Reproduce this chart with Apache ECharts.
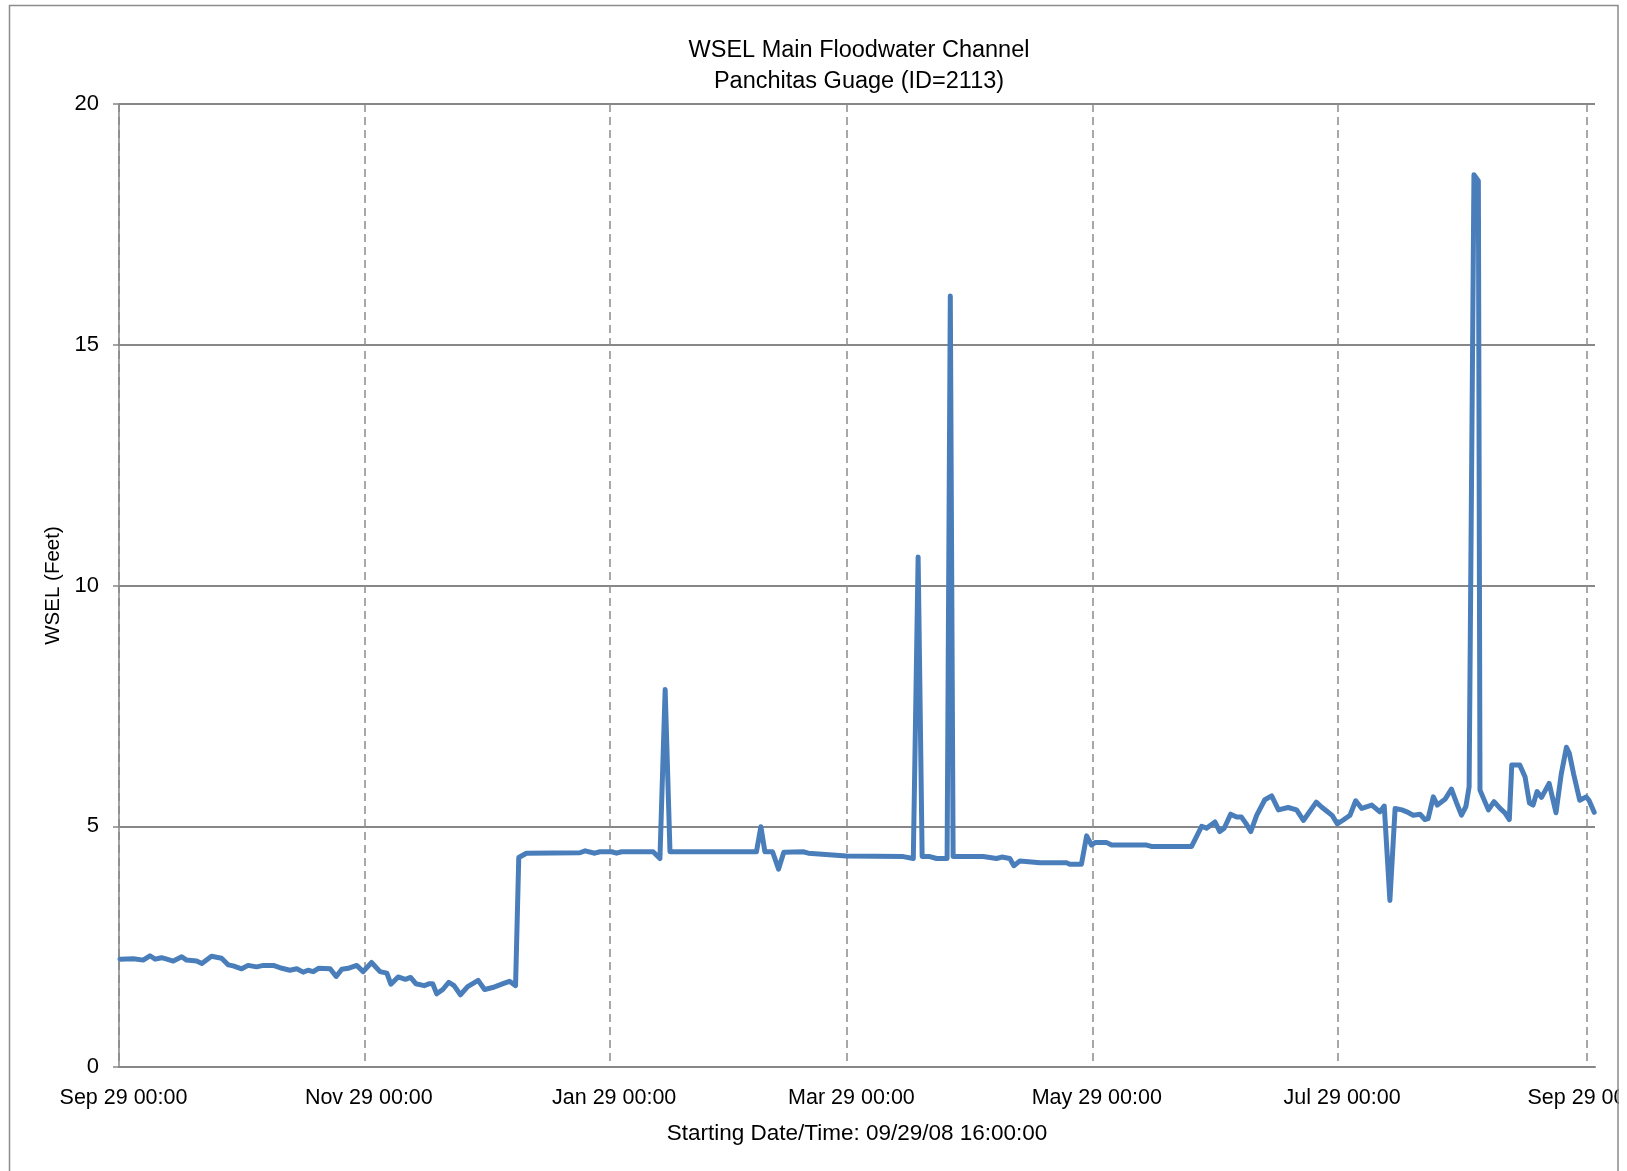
<!DOCTYPE html>
<html>
<head>
<meta charset="utf-8">
<script src="https://cdn.jsdelivr.net/npm/echarts@6/dist/echarts.min.js"></script>
<style>
  html, body { margin: 0; padding: 0; background: #ffffff; overflow: hidden; }
  #chart { width: 1627px; height: 1171px; }
</style>
</head>
<body>
<div id="chart"></div>
<script>
// ---- Data ----
const chartTitle = 'WSEL Main Floodwater Channel\nPanchitas Guage (ID=2113)';
const yAxisName = 'WSEL (Feet)';
const xAxisName = 'Starting Date/Time: 09/29/08 16:00:00';

// axis range and tick dates (UTC)
const axisStart = [2008, 9, 29];
const axisEnd = [2009, 10, 1];
const tickDates = [[2008, 9, 29], [2008, 11, 29], [2009, 1, 29], [2009, 3, 29], [2009, 5, 29], [2009, 7, 29], [2009, 9, 29]];
const monthNames = ['Jan','Feb','Mar','Apr','May','Jun','Jul','Aug','Sep','Oct','Nov','Dec'];

// days elapsed since Sep 29 2008 00:00
const dayOffsets = [
  0.25, 3.6, 6, 7.7, 9, 10.6, 11.9, 13.5, 15.6, 16.8, 19.3, 20.6, 23, 25.5, 27.2, 28.4,
  30.5, 32.1, 34.2, 35.9, 38.4, 40.5, 42.5, 44.2, 45.8, 47, 48.3, 49.6, 52.5, 54, 55.4,
  57, 59.1, 60.7, 62.8, 64.9, 66.6, 67.6, 69.4, 71.2, 72.5, 73.8, 75.9, 77.2, 78, 79,
  80.5, 82, 83.3, 84.9, 86.7, 89.3, 90.9, 92.9, 95.5, 97.1, 98.6,
  99.4, 101.3, 114.6, 115.9, 118.3, 119.6, 122.5, 123.7, 125, 132.8, 134.5, 135.8, 137,
  158.5, 159.6, 160.6, 162.5, 164, 165.3, 170.1, 171.4, 180.9, 195, 197.5,
  197.8, 198.7, 199.7, 201.6, 203.3, 205.9, 206.7, 207.4, 214.9, 215.7, 218.2, 219.5,
  221.5, 222.5, 224, 229, 235.6, 236.4, 239.3, 240.6, 241.8, 242.7, 245.6, 246.8,
  255.5, 256.7, 266.7, 269.2, 270.4, 272.5, 273.7, 274.8, 276.4, 277.9, 279.1, 280.2,
  281.4, 282.9, 284.9, 286.6, 288.3, 290.7, 292.8, 294.5, 297.7, 299, 300.5, 301.7,
  302.9, 304.4, 306.1, 307.5, 309, 311.5, 313.5, 314.6, 316.0, 317.3, 319, 320.2,
  321.8, 323.5, 324.7, 325.5, 326.8, 327.8, 329.7, 331.3, 332.6, 333.8, 334.9, 335.7,
  336.9, 338.0, 338.4, 340.5, 341.9, 343.4, 344.6, 345.7, 346.3, 348.3, 349.6, 350.7,
  351.6, 352.6, 353.7, 355.6, 357.3, 358.6, 359.9, 360.6, 361.7, 363.2, 364.8, 365.5, 366.8
];
const wselFeet = [
  2.24, 2.25, 2.22, 2.31, 2.24, 2.27, 2.24, 2.20, 2.29, 2.22, 2.20, 2.15, 2.30, 2.26, 2.12, 2.10,
  2.04, 2.11, 2.08, 2.11, 2.11, 2.05, 2.01, 2.04, 1.97, 2.01, 1.98, 2.05, 2.04, 1.88, 2.03,
  2.05, 2.11, 1.98, 2.17, 1.98, 1.95, 1.72, 1.87, 1.82, 1.86, 1.73, 1.69, 1.73, 1.73, 1.52,
  1.61, 1.76, 1.69, 1.50, 1.67, 1.80, 1.61, 1.65, 1.73, 1.78, 1.69,
  4.35, 4.44, 4.45, 4.49, 4.44, 4.47, 4.47, 4.44, 4.47, 4.47, 4.33, 7.84, 4.47,
  4.47, 4.99, 4.47, 4.47, 4.11, 4.46, 4.47, 4.44, 4.38, 4.37, 4.33,
  4.33, 10.59, 4.37, 4.37, 4.33, 4.33, 16.01, 4.37, 4.37, 4.36, 4.33, 4.36,
  4.33, 4.18, 4.28, 4.24, 4.24, 4.21, 4.21, 4.80, 4.61, 4.66, 4.66, 4.61,
  4.61, 4.58, 4.58, 5.00, 4.96, 5.09, 4.89, 4.96, 5.25, 5.19, 5.19, 5.06,
  4.89, 5.23, 5.55, 5.63, 5.34, 5.39, 5.34, 5.12, 5.50, 5.40, 5.30, 5.22,
  5.05, 5.13, 5.23, 5.53, 5.37, 5.44, 5.30, 5.42, 3.46, 5.37, 5.34, 5.30,
  5.23, 5.25, 5.14, 5.16, 5.61, 5.44, 5.56, 5.77, 5.48, 5.23, 5.41, 5.82,
  18.53, 18.40, 5.75, 5.34, 5.51, 5.37, 5.28, 5.14, 6.27, 6.27, 6.03, 5.48,
  5.44, 5.72, 5.60, 5.89, 5.28, 6.08, 6.64, 6.52, 6.08, 5.54, 5.61, 5.54, 5.29
];

// ---- Build ----
const DAY = 86400000;
const utc = d => Date.UTC(d[0], d[1] - 1, d[2]);
const startMs = utc(axisStart);
const endMs = utc(axisEnd);
const tickValues = tickDates.map(utc);
const seriesData = dayOffsets.map((d, i) => [startMs + d * DAY, wselFeet[i]]);

const FONT = '"Liberation Sans", Arial, sans-serif';
const chart = echarts.init(document.getElementById('chart'), null, { renderer: 'canvas' });

chart.setOption({
  backgroundColor: '#ffffff',
  animation: false,
  title: {
    text: chartTitle,
    left: 854,
    top: 30,
    textAlign: 'center',
    textStyle: { fontFamily: FONT, fontSize: 23.5, fontWeight: 'normal', color: '#000', lineHeight: 31 }
  },
  grid: { left: 119, right: 32, top: 104, bottom: 104, containLabel: false, outerBoundsMode: 'none' },
  xAxis: {
    type: 'value',
    min: startMs,
    max: endMs,
    name: xAxisName,
    nameLocation: 'middle',
    nameGap: 55,
    nameTextStyle: { fontFamily: FONT, fontSize: 22.5, color: '#000' },
    axisLine: { show: true, onZero: false, lineStyle: { color: '#878787', width: 2 } },
    axisTick: { show: false, customValues: tickValues },
    axisLabel: {
      customValues: tickValues,
      margin: 20,
      padding: [0, 0, 0, 9],
      fontFamily: FONT, fontSize: 21.5, color: '#000',
      showMinLabel: true, showMaxLabel: true, hideOverlap: false,
      formatter: v => {
        const d = new Date(v);
        return monthNames[d.getUTCMonth()] + ' ' + d.getUTCDate() + ' 00:00';
      }
    },
    splitLine: { show: true, lineStyle: { color: '#8c8c8c', width: 1.5, type: [8, 5] } }
  },
  yAxis: {
    type: 'value',
    min: 0,
    max: 20,
    interval: 5,
    name: yAxisName,
    nameLocation: 'middle',
    nameGap: 54,
    nameRotate: 90,
    nameTextStyle: { fontFamily: FONT, fontSize: 20.5, color: '#000' },
    axisLine: { show: true, lineStyle: { color: '#878787', width: 1.5 } },
    axisTick: { show: true, length: 6, inside: false, lineStyle: { color: '#878787', width: 1.5 } },
    axisLabel: { margin: 20, fontFamily: FONT, fontSize: 22, color: '#000' },
    splitLine: { show: true, lineStyle: { color: '#878787', width: 2 } }
  },
  series: [{
    type: 'line',
    data: seriesData,
    showSymbol: false,
    symbol: 'none',
    lineStyle: { color: '#4A7EBB', width: 5, join: 'round', cap: 'round' },
    itemStyle: { color: '#4A7EBB' },
    z: 3
  }],
  graphic: [
    { type: 'rect', z: 100, silent: true, shape: { x: 1619, y: 0, width: 20, height: 1171 }, style: { fill: '#ffffff' } },
    { type: 'rect', z: 101, silent: true, shape: { x: 9.5, y: 5.5, width: 1608.5, height: 1200 }, style: { fill: 'none', stroke: '#8c8c8c', lineWidth: 1.5 } }
  ]
});
</script>
</body>
</html>
